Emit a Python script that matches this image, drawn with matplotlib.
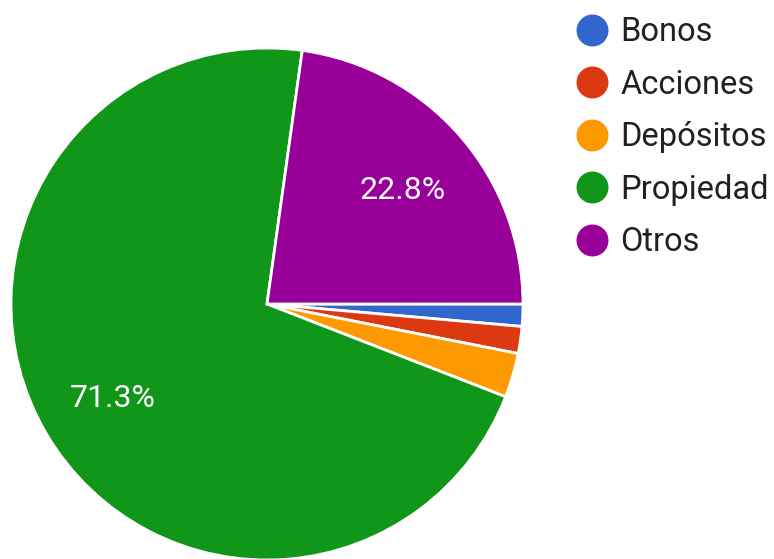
import matplotlib.pyplot as plt
from matplotlib.lines import Line2D
from matplotlib.transforms import ScaledTranslation

plt.rcParams['font.family'] = ['Roboto', 'DejaVu Sans']

categorias = ["Bonos", "Acciones", "Depósitos", "Propiedad", "Otros"]
porcentajes = [1.4, 1.7, 2.8, 71.3, 22.8]
colores = ["#3366cc", "#dc3912", "#ff9900", "#109618", "#990099"]

fig = plt.figure(figsize=(7.74, 5.59), dpi=100)
ax = fig.add_axes([0, 0, 1, 1])

def etiqueta(p):
    # seulement les grandes parts
    return f"{p:.1f}%" if p > 5 else ""

wedges, _, autotexts = ax.pie(
    porcentajes, colors=colores, startangle=0, counterclock=False,
    center=(267, 559 - 304), radius=256, frame=True,
    autopct=etiqueta, pctdistance=0.7,
    wedgeprops=dict(edgecolor='white', linewidth=2),
    textprops=dict(color='white', fontsize=23))
ax.set_xlim(0, 774)
ax.set_ylim(0, 559)
ax.set_aspect('equal')
ax.axis('off')

# petit décalage vertical des pourcentages
decalage = ScaledTranslation(0, -4 / 100, fig.dpi_scale_trans)
for t in autotexts:
    t.set_transform(ax.transData + decalage)

handles = [Line2D([], [], marker='o', linestyle='', markersize=22,
                  markerfacecolor=c, markeredgecolor=c) for c in colores]
leg = ax.legend(handles, categorias, loc='upper left',
                bbox_to_anchor=(563 / 774, 1 - 3 / 559), frameon=False,
                fontsize=23.5, labelspacing=0.63, handletextpad=0.36,
                handlelength=1.0, borderaxespad=0)
for t in leg.get_texts():
    t.set_color('#212121')

fig.savefig("out.png", dpi=100)
